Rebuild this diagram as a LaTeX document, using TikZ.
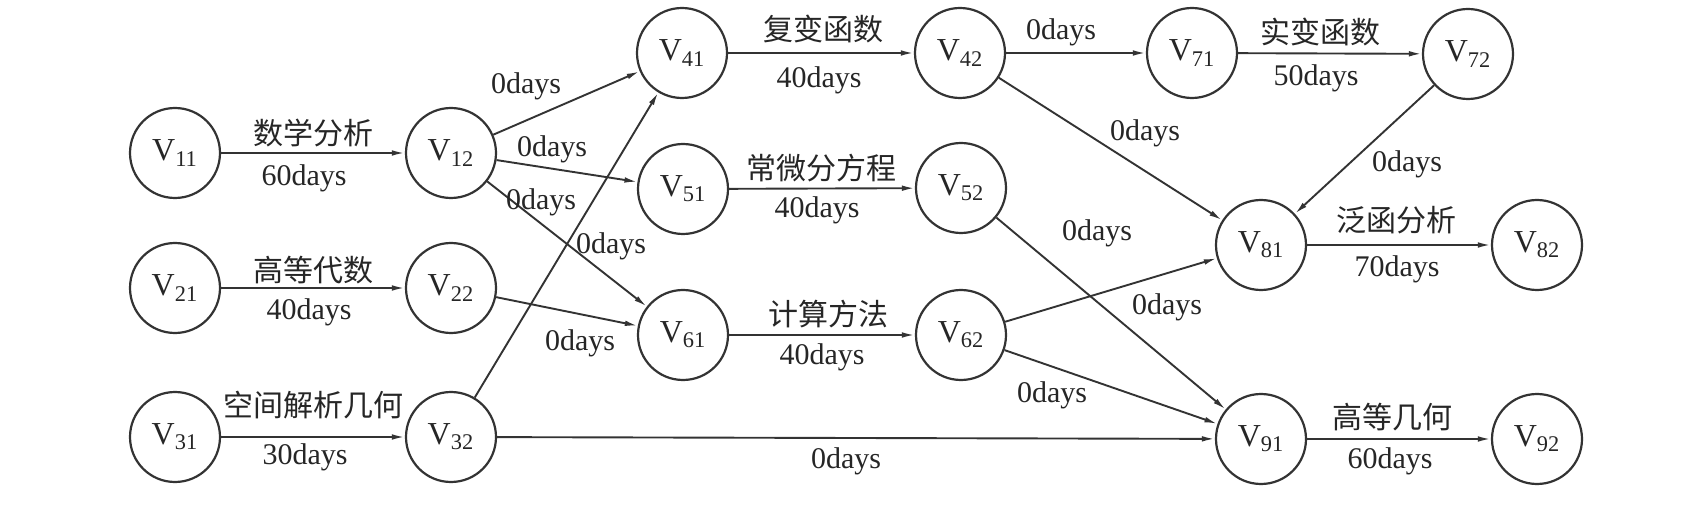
\documentclass[tikz,border=0pt]{standalone}
\usepackage{fontspec}
\setmainfont{Liberation Serif}
\newfontfamily\cjk{Noto Sans CJK SC}
\usetikzlibrary{arrows.meta}
\newcommand\vsub[1]{V\textsubscript{#1}}
\tikzset{
  vtx/.style={draw=black!80,line width=1.1pt,circle,minimum size=45pt,inner sep=0pt,
    text=black!85,font=\fontsize{16}{19}\selectfont},
  arr/.style={draw=black!80,line width=0.95pt,-{Latex[length=6.5pt,width=2.8pt]}},
  lbl/.style={inner sep=1pt,text=black!85,font=\fontsize{15}{18}\selectfont},
  clbl/.style={lbl,font=\fontsize{15}{18}\selectfont\cjk}
}
\begin{document}
\begin{tikzpicture}[x=0.5pt,y=-0.5pt]
  \useasboundingbox[fill=white] (0,0) rectangle (1703,518);

  % vertices
  \node[vtx] (v11) at (175,153) {\vsub{11}};
  \node[vtx] (v12) at (451,153) {\vsub{12}};
  \node[vtx] (v21) at (175,288) {\vsub{21}};
  \node[vtx] (v22) at (451,288) {\vsub{22}};
  \node[vtx] (v31) at (175,437) {\vsub{31}};
  \node[vtx] (v32) at (451,437) {\vsub{32}};
  \node[vtx] (v41) at (682,53)  {\vsub{41}};
  \node[vtx] (v42) at (960,53)  {\vsub{42}};
  \node[vtx] (v51) at (683,189) {\vsub{51}};
  \node[vtx] (v52) at (961,188) {\vsub{52}};
  \node[vtx] (v61) at (683,335) {\vsub{61}};
  \node[vtx] (v62) at (961,335) {\vsub{62}};
  \node[vtx] (v71) at (1192,53) {\vsub{71}};
  \node[vtx] (v72) at (1468,54) {\vsub{72}};
  \node[vtx] (v81) at (1261,245) {\vsub{81}};
  \node[vtx] (v82) at (1537,245) {\vsub{82}};
  \node[vtx] (v91) at (1261,439) {\vsub{91}};
  \node[vtx] (v92) at (1537,439) {\vsub{92}};

  % activities
  \draw[arr] (v11) -- (v12);
  \draw[arr] (v21) -- (v22);
  \draw[arr] (v31) -- (v32);
  \draw[arr] (v12) -- (v41);
  \draw[arr] (v12) -- (v51);
  \draw[arr] (v12) -- (v61);
  \draw[arr] (v22) -- (v61);
  \draw[arr] (v32) -- (v41);
  \draw[arr] (v32) -- (v91);
  \draw[arr] (v41) -- (v42);
  \draw[arr] (v51) -- (v52);
  \draw[arr] (v61) -- (v62);
  \draw[arr] (v42) -- (v71);
  \draw[arr] (v42) -- (v81);
  \draw[arr] (v52) -- (v91);
  \draw[arr] (v62) -- (v81);
  \draw[arr] (v62) -- (v91);
  \draw[arr] (v71) -- (v72);
  \draw[arr] (v72) -- (v81);
  \draw[arr] (v81) -- (v82);
  \draw[arr] (v91) -- (v92);

  % labels
  \node[clbl] (c1112) at (313,133) {数学分析};
  \node[lbl]  (d1112) at (304,178) {60days};
  \node[clbl] (c2122) at (313,270) {高等代数};
  \node[lbl]  (d2122) at (309,312) {40days};
  \node[clbl] (c3132) at (313,405) {空间解析几何};
  \node[lbl]  (d3132) at (305,457) {30days};
  \node[lbl]  (d1241) at (526,86)  {0days};
  \node[lbl]  (d1251) at (552,149) {0days};
  \node[lbl]  (d1261) at (541,202) {0days};
  \node[lbl]  (d3241) at (611,246) {0days};
  \node[lbl]  (d2261) at (580,343) {0days};
  \node[clbl] (c4142) at (823,29)  {复变函数};
  \node[lbl]  (d4142) at (819,80)  {40days};
  \node[clbl] (c5152) at (821,168) {常微分方程};
  \node[lbl]  (d5152) at (817,210) {40days};
  \node[clbl] (c6162) at (828,314) {计算方法};
  \node[lbl]  (d6162) at (822,357) {40days};
  \node[lbl]  (d4271) at (1061,32) {0days};
  \node[lbl]  (d4281) at (1145,133) {0days};
  \node[lbl]  (d5291) at (1097,233) {0days};
  \node[lbl]  (d6281) at (1167,307) {0days};
  \node[lbl]  (d6291) at (1052,395) {0days};
  \node[lbl]  (d3291) at (846,461) {0days};
  \node[clbl] (c7172) at (1320,32) {实变函数};
  \node[lbl]  (d7172) at (1316,78) {50days};
  \node[lbl]  (d7281) at (1407,164) {0days};
  \node[clbl] (c8182) at (1396,220) {泛函分析};
  \node[lbl]  (d8182) at (1397,269) {70days};
  \node[clbl] (c9192) at (1392,417) {高等几何};
  \node[lbl]  (d9192) at (1390,461) {60days};
\end{tikzpicture}
\end{document}
